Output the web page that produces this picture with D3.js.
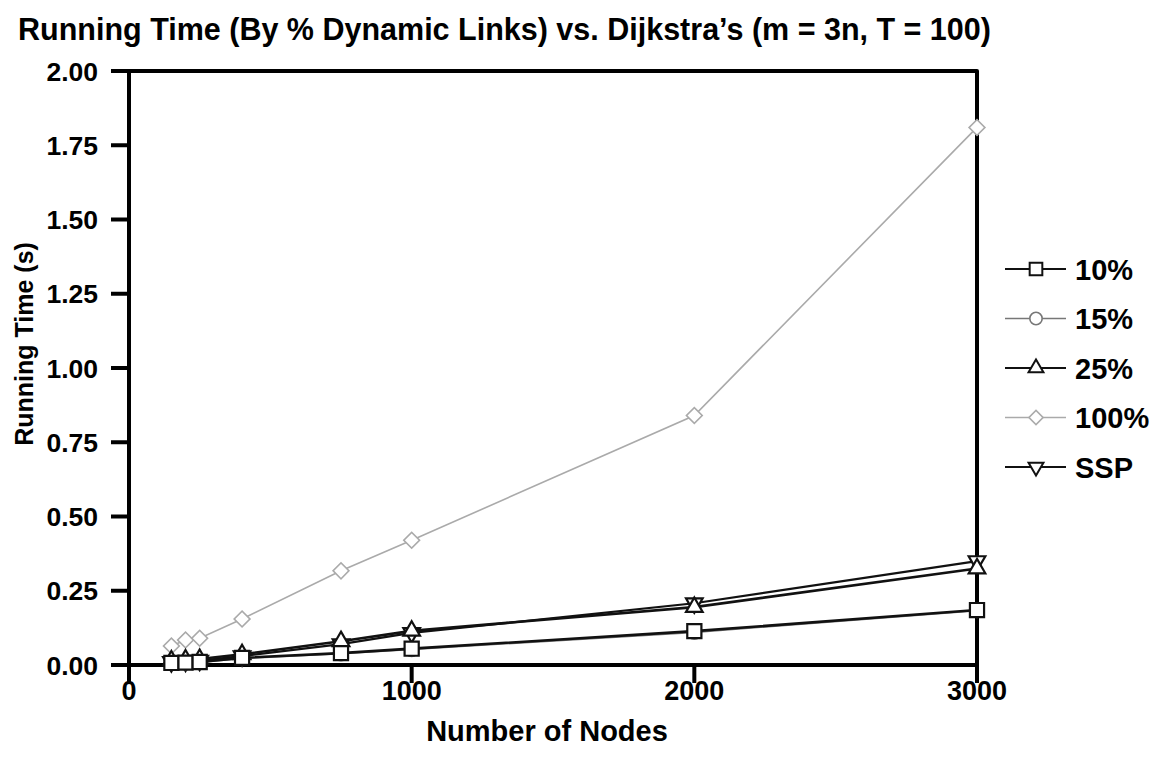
<!DOCTYPE html>
<html>
<head>
<meta charset="utf-8">
<script src="https://cdn.jsdelivr.net/npm/d3@7"></script>
<style>
  html, body { margin: 0; padding: 0; background: #fff; }
  svg { display: block; font-family: "Liberation Sans", Arial, Helvetica, sans-serif; font-weight: bold; }
</style>
</head>
<body>
<svg id="chart" width="1156" height="763"></svg>
<script>
'use strict';

// ---- Data -------------------------------------------------------------------

const nodes = [150, 200, 250, 400, 750, 1000, 2000, 3000];

const pct10  = [0.007, 0.008, 0.010, 0.024, 0.040, 0.055, 0.114, 0.185];
const pct15  = [0.006, 0.007, 0.009, 0.022, 0.038, 0.052, 0.110, 0.183];
const pct25  = [0.015, 0.018, 0.020, 0.036, 0.080, 0.115, 0.195, 0.325];
const pct100 = [0.064, 0.084, 0.090, 0.155, 0.317, 0.420, 0.840, 1.810];
const ssp    = [0.010, 0.012, 0.015, 0.030, 0.070, 0.108, 0.208, 0.350];

const xTicks = [0, 1000, 2000, 3000];
const yTicks = [0, 0.25, 0.5, 0.75, 1.0, 1.25, 1.5, 1.75, 2.0];

// legend order top to bottom; drawing order is back to front
const series = [
  { name: '10%',  values: pct10,  color: '#111', width: 2.6, symbol: 'square' },
  { name: '15%',  values: pct15,  color: '#777', width: 1.6, symbol: 'circle' },
  { name: '25%',  values: pct25,  color: '#111', width: 2.6, symbol: 'triangle' },
  { name: '100%', values: pct100, color: '#aaa', width: 1.6, symbol: 'diamond' },
  { name: 'SSP',  values: ssp,    color: '#111', width: 2.2, symbol: 'down' },
];
const drawOrder = ['100%', 'SSP', '25%', '15%', '10%'];

// ---- Setup ------------------------------------------------------------------

const svg = d3.select('#chart');
const x = d3.scaleLinear().domain([0, 3000]).range([129, 977]);
const y = d3.scaleLinear().domain([0, 2]).range([665, 71]);

const AXIS_W = 4;
const TICK = 18;

function symbolPath(kind, k = 1) {
  switch (kind) {
    case 'square':   return d3.symbol(d3.symbolSquare, 200 * k)();
    case 'circle':   return d3.symbol(d3.symbolCircle, 150 * k)();
    case 'triangle': return d3.symbol(d3.symbolTriangle, 120 * k)();
    case 'diamond':  return d3.symbol(d3.symbolSquare, 125 * k)();
    case 'down':     return d3.symbol(d3.symbolTriangle, 120 * k)();
  }
}
function symbolRotate(kind) {
  if (kind === 'down') return ' rotate(180)';
  if (kind === 'diamond') return ' rotate(45)';
  return '';
}

// ---- Title ------------------------------------------------------------------

svg.append('text')
  .attr('x', 18).attr('y', 40)
  .attr('font-size', 30.5)
  .text('Running Time (By % Dynamic Links) vs. Dijkstra\u2019s (m = 3n, T = 100)');

// ---- Frame & axes -----------------------------------------------------------

const frame = svg.append('g').attr('stroke', '#000').attr('stroke-width', AXIS_W)
  .attr('fill', 'none').attr('stroke-linejoin', 'round');

frame.append('path')
  .attr('d', `M${x(0)},${y(2)}L${x(3000)},${y(2)}L${x(3000)},${y(0)}`);

// x axis line (extends left to the y tick length)
frame.append('line')
  .attr('x1', x(0) - TICK).attr('x2', x(3000))
  .attr('y1', y(0)).attr('y2', y(0));
// y axis line (extends down to the x tick length)
frame.append('line')
  .attr('x1', x(0)).attr('x2', x(0))
  .attr('y1', y(2)).attr('y2', y(0) + TICK);

// ticks
frame.selectAll('.xt').data(xTicks).join('line')
  .attr('x1', d => x(d)).attr('x2', d => x(d))
  .attr('y1', y(0)).attr('y2', y(0) + TICK);
frame.selectAll('.yt').data(yTicks).join('line')
  .attr('x1', x(0) - TICK).attr('x2', x(0))
  .attr('y1', d => y(d)).attr('y2', d => y(d));

svg.append('g').selectAll('text').data(xTicks).join('text')
  .attr('x', d => x(d)).attr('y', 700)
  .attr('text-anchor', 'middle').attr('font-size', 27)
  .text(d => d);

svg.append('g').selectAll('text').data(yTicks).join('text')
  .attr('x', 98).attr('y', d => y(d) + 9.5)
  .attr('text-anchor', 'end').attr('font-size', 26.5)
  .text(d => d3.format('.2f')(d));

svg.append('text')
  .attr('x', 547).attr('y', 741)
  .attr('text-anchor', 'middle').attr('font-size', 29)
  .text('Number of Nodes');

svg.append('text')
  .attr('transform', 'translate(33,344) rotate(-90)')
  .attr('text-anchor', 'middle').attr('font-size', 25)
  .text('Running Time (s)');

// ---- Series -----------------------------------------------------------------

const line = d3.line().x((d, i) => x(nodes[i])).y(d => y(d));
const plot = svg.append('g');

drawOrder.forEach(name => {
  const s = series.find(d => d.name === name);
  const g = plot.append('g');
  g.append('path')
    .attr('d', line(s.values))
    .attr('fill', 'none')
    .attr('stroke', s.color)
    .attr('stroke-width', s.width);
  g.selectAll('path.m').data(s.values).join('path')
    .attr('class', 'm')
    .attr('d', symbolPath(s.symbol))
    .attr('transform', (d, i) => `translate(${x(nodes[i])},${y(d)})${symbolRotate(s.symbol)}`)
    .attr('fill', '#fff')
    .attr('stroke', s.color)
    .attr('stroke-width', s.color === '#111' ? 2.2 : 1.6);
});

// ---- Legend -----------------------------------------------------------------

const legend = svg.append('g');
series.forEach((s, i) => {
  const ly = 269 + i * 49.5;
  const g = legend.append('g');
  g.append('line')
    .attr('x1', 1005).attr('x2', 1066)
    .attr('y1', ly).attr('y2', ly)
    .attr('stroke', s.color).attr('stroke-width', s.width * 0.8);
  g.append('path')
    .attr('d', symbolPath(s.symbol, 0.8))
    .attr('transform', `translate(1036,${ly})${symbolRotate(s.symbol)}`)
    .attr('fill', '#fff').attr('stroke', s.color)
    .attr('stroke-width', s.color === '#111' ? 2 : 1.6);
  g.append('text')
    .attr('x', 1075).attr('y', ly + 10.5)
    .attr('font-size', 29)
    .text(s.name);
});
</script>
</body>
</html>
